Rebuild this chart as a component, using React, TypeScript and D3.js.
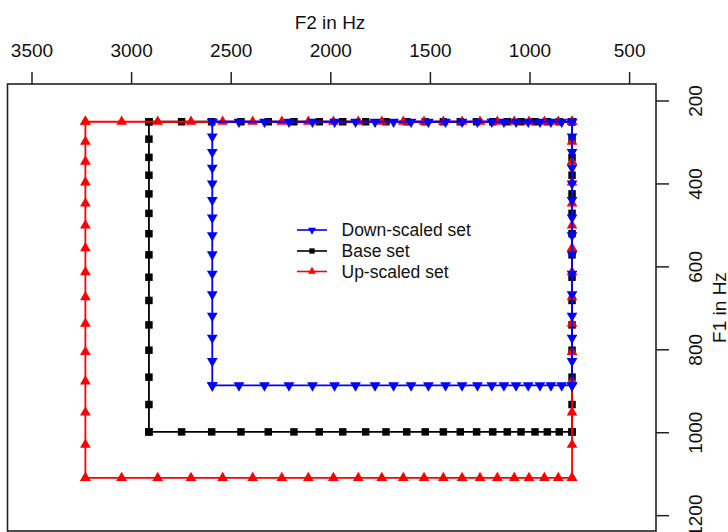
import React from "react";
import * as d3 from "d3";

// ---- data ----
const f2Ticks = [3500, 3000, 2500, 2000, 1500, 1000, 500];
const f1Ticks = [200, 400, 600, 800, 1000, 1200];

const seriesNames = ["Down-scaled set", "Base set", "Up-scaled set"];

// F2 values (Hz) along horizontal edges, high -> low
const upF2 = [3232, 3050, 2869, 2702, 2543, 2392, 2246, 2113, 1987, 1862, 1744, 1636, 1532, 1435, 1341, 1251, 1164, 1079, 1005, 928, 858, 789];
const baseF2 = [2913, 2749, 2598, 2451, 2314, 2185, 2058, 1940, 1825, 1723, 1619, 1526, 1435, 1350, 1268, 1187, 1114, 1045, 975, 913, 853, 789];
const downF2 = [2595, 2461, 2333, 2210, 2092, 1981, 1876, 1778, 1685, 1597, 1510, 1424, 1341, 1264, 1192, 1131, 1070, 1009, 950, 895, 841, 789];

// F1 values (Hz) along vertical edges, low -> high
const upF1 = [250, 298, 346, 396, 447, 500, 555, 613, 673, 737, 805, 876, 951, 1029, 1109];
const baseF1 = [250, 292, 336, 379, 424, 471, 520, 571, 625, 681, 740, 801, 866, 932, 998];
const downF1 = [250, 286, 323, 361, 399, 439, 481, 524, 570, 617, 666, 718, 771, 827, 886];

type Pt = [number, number]; // [F2, F1]

function outline(f2: number[], f1: number[]): Pt[] {
  const pts: Pt[] = [];
  const f2max = f2[0];
  const f2min = f2[f2.length - 1];
  const f1min = f1[0];
  const f1max = f1[f1.length - 1];
  f1.forEach((v) => pts.push([f2max, v]));
  f2.forEach((v) => pts.push([v, f1max]));
  [...f1].reverse().forEach((v) => pts.push([f2min, v]));
  [...f2].reverse().forEach((v) => pts.push([v, f1min]));
  return pts;
}

const W = 728;
const H = 532;
const L = 7.5, R = 656, T = 84, B = 531;

export default function App() {
  const x = d3.scaleLinear().domain([3623, 367.5]).range([L, R]);
  const y = d3.scaleLinear().domain([159, 1237]).range([T, B]);
  const line = d3.line<Pt>().x((d) => x(d[0])).y((d) => y(d[1]));

  const triUp = d3.symbol().type(d3.symbolTriangle).size(50)()!;
  const square = d3.symbol().type(d3.symbolSquare).size(56)()!;
  const triUpS = d3.symbol().type(d3.symbolTriangle).size(28)()!;
  const squareS = d3.symbol().type(d3.symbolSquare).size(28)()!;

  const series = [
    { name: seriesNames[1], color: "#000000", pts: outline(baseF2, baseF1), sym: square, rot: 0, lw: 1.8 },
    { name: seriesNames[2], color: "#ff0000", pts: outline(upF2, upF1), sym: triUp, rot: 0, lw: 1.8 },
    { name: seriesNames[0], color: "#0000ff", pts: outline(downF2, downF1), sym: triUp, rot: 180, lw: 1.8 },
  ];

  const legend = [
    { name: seriesNames[0], color: "#0000ff", sym: triUpS, rot: 180 },
    { name: seriesNames[1], color: "#000000", sym: squareS, rot: 0 },
    { name: seriesNames[2], color: "#ff0000", sym: triUpS, rot: 0 },
  ];
  const legendY = [230, 251, 271.5];

  const font = "'Liberation Sans', Arial, sans-serif";

  return (
    <div style={{ position: "fixed", left: 0, top: 0 }}>
      <svg width={W} height={H} style={{ display: "block", background: "#fff" }}>
        <rect x={0} y={0} width={W} height={H} fill="#fff" />
        {/* data */}
        {series.map((s) => (
          <g key={s.name}>
            <path d={line(s.pts)!} fill="none" stroke={s.color} strokeWidth={s.lw} />
            {s.pts.map((p, i) => (
              <path
                key={i}
                d={s.sym}
                fill={s.color}
                transform={`translate(${x(p[0])},${y(p[1])}) rotate(${s.rot})`}
              />
            ))}
          </g>
        ))}
        {/* box */}
        <rect x={L} y={T} width={R - L} height={B - T} fill="none" stroke="#222" strokeWidth={1.6} />
        {/* top axis */}
        {f2Ticks.map((t) => (
          <g key={t}>
            <line x1={x(t)} x2={x(t)} y1={T} y2={T - 12} stroke="#222" strokeWidth={1.5} />
            <text x={x(t)} y={56.5} textAnchor="middle" fontFamily={font} fontSize={19} fill="#111">
              {t}
            </text>
          </g>
        ))}
        <text x={330} y={29} textAnchor="middle" fontFamily={font} fontSize={19} fill="#111">
          F2 in Hz
        </text>
        {/* right axis */}
        {f1Ticks.map((t) => (
          <g key={t}>
            <line x1={R} x2={R + 13} y1={y(t)} y2={y(t)} stroke="#222" strokeWidth={1.5} />
            <text
              transform={`translate(701.5,${y(t)}) rotate(-90)`}
              textAnchor="middle"
              fontFamily={font}
              fontSize={19}
              fill="#111"
            >
              {t}
            </text>
          </g>
        ))}
        <text
          transform={`translate(726,${(T + B) / 2}) rotate(-90)`}
          textAnchor="middle"
          fontFamily={font}
          fontSize={19}
          fill="#111"
        >
          F1 in Hz
        </text>
        {/* legend */}
        {legend.map((l, i) => (
          <g key={l.name}>
            <line x1={297} x2={327} y1={legendY[i]} y2={legendY[i]} stroke={l.color} strokeWidth={1.6} />
            <path d={l.sym} fill={l.color} transform={`translate(312,${legendY[i]}) rotate(${l.rot})`} />
            <text x={341.5} y={legendY[i] + 6} fontFamily={font} fontSize={17.5} fill="#111">
              {l.name}
            </text>
          </g>
        ))}
      </svg>
    </div>
  );
}
